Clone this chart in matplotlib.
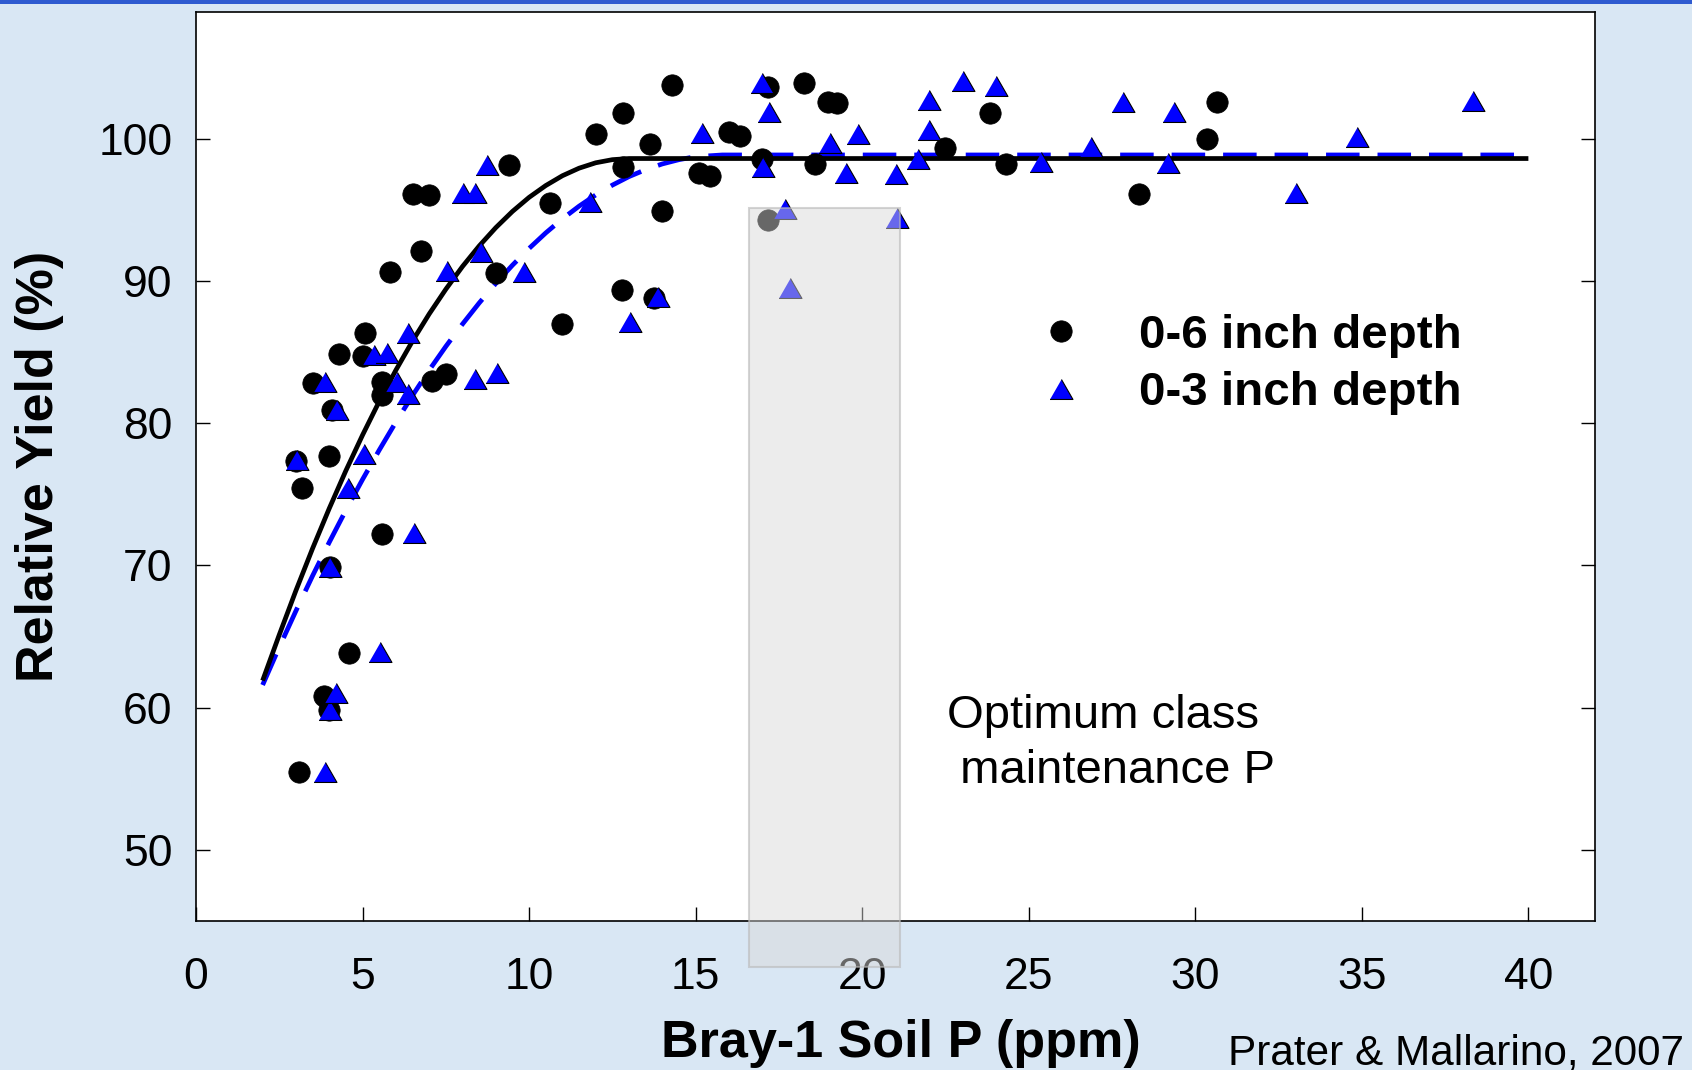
import matplotlib
matplotlib.use("Agg")
import matplotlib.pyplot as plt
from matplotlib.patches import Rectangle

plt.rcParams['font.family'] = ['Liberation Sans', 'DejaVu Sans']

# ---- data ----
depth6_x = [3.08, 3.83, 4.00, 4.58, 5.58, 4.02, 3.17, 3.00, 4.00, 3.50, 4.08, 4.30, 5.00,
            5.08, 5.57, 5.57, 5.83, 6.75, 6.50, 7.00, 7.10, 7.50, 9.00, 9.40, 10.64, 11.00,
            12.00, 12.82, 14.29, 13.64, 12.82, 13.99, 12.79, 13.74, 15.99, 16.32, 15.09,
            15.42, 16.99, 17.17, 18.24, 18.96, 19.24, 18.59, 17.16, 22.49, 23.83, 24.33,
            28.32, 30.34, 30.66]
depth6_y = [55.46, 60.84, 59.8, 63.87, 72.2, 69.87, 75.42, 77.35, 77.7, 82.8, 80.9, 84.86, 84.7,
            86.3, 82.9, 81.97, 90.6, 92.1, 96.08, 96.03, 82.98, 83.45, 90.57, 98.14, 95.49, 87.0,
            100.3, 101.8, 103.8, 99.6, 97.98, 94.9, 89.35, 88.77, 100.48, 100.2, 97.6,
            97.36, 98.6, 103.64, 103.9, 102.6, 102.5, 98.2, 94.3, 99.31, 101.77, 98.19,
            96.08, 99.96, 102.59]

depth3_x = [3.87, 4.03, 4.20, 5.53, 6.53, 4.03, 4.55, 3.03, 5.03, 3.87, 4.23, 5.33, 5.73,
            6.37, 6.03, 6.37, 7.53, 8.37, 9.03, 8.03, 8.37, 8.55, 8.73, 9.84, 11.84, 13.02,
            13.86, 15.19, 16.99, 17.19, 17.02, 17.69, 17.82, 19.02, 19.86, 19.52, 21.02,
            21.04, 21.69, 22.02, 22.02, 23.03, 24.02, 25.36, 26.86, 27.84, 29.36, 29.19,
            33.03, 34.85, 38.34]
depth3_y = [55.5, 59.84, 61.0, 63.9, 72.26, 69.87, 75.42, 77.41, 77.83, 82.91, 80.92, 84.79, 84.95,
            86.35, 82.91, 82.05, 90.71, 83.08, 83.5, 96.15, 96.19, 92.04, 98.14, 90.64, 95.56, 87.13,
            88.84, 100.41, 103.88, 101.88, 97.98, 95.02, 89.47, 99.7, 100.3, 97.6, 97.5,
            94.39, 98.6, 102.7, 100.6, 104.06, 103.69, 98.37, 99.38, 102.59, 101.88, 98.3,
            96.2, 100.08, 102.66]

fit6_x = [2.0, 2.5, 3.0, 3.5, 4.0, 4.5, 5.0, 5.5, 6.0, 6.5, 7.0, 7.5, 8.0, 8.5, 9.0, 9.5,
          10.0, 10.5, 11.0, 11.5, 12.0, 12.5, 13.0, 40.0]
fit6_y = [61.9, 65.12, 68.23, 71.19, 74.0, 76.66, 79.16, 81.52, 83.72, 85.77, 87.67, 89.41,
          91.01, 92.45, 93.74, 94.88, 95.87, 96.70, 97.39, 97.92, 98.30, 98.52, 98.6, 98.6]

fit3_x = [2.0, 2.5, 3.0, 3.5, 4.0, 4.5, 5.0, 5.5, 6.0, 6.5, 7.0, 7.5, 8.0, 8.5, 9.0, 9.5,
          10.0, 10.5, 11.0, 11.5, 12.0, 12.5, 13.0, 13.5, 14.0, 14.5, 15.0, 15.8, 40.0]
fit3_y = [61.59, 64.25, 66.80, 69.27, 71.62, 73.88, 76.04, 78.10, 80.07, 81.94, 83.72, 85.39,
          86.96, 88.44, 89.82, 91.10, 92.28, 93.37, 94.36, 95.25, 96.04, 96.73, 97.33, 97.82,
          98.22, 98.52, 98.73, 98.85, 98.85]

optimum_range = [16.59, 21.14]   # Bray-1 P (ppm)
optimum_label = "Optimum class\n maintenance P"
series_labels = ["0-6 inch depth", "0-3 inch depth"]
x_ticks = [0, 5, 10, 15, 20, 25, 30, 35, 40]
y_ticks = [50, 60, 70, 80, 90, 100]
x_label = "Bray-1 Soil P (ppm)"
y_label = "Relative Yield (%)"
credit = "Prater & Mallarino, 2007"

# ---- figure ----
W, H = 1692, 1070
fig = plt.figure(figsize=(W / 100, H / 100), dpi=100)
fig.patch.set_facecolor('#d9e7f4')
fig.patches.append(Rectangle((0, 1 - 4 / H), 1, 4 / H, transform=fig.transFigure,
                             facecolor='#2f5bd0', edgecolor='none'))

ax = fig.add_axes([196 / W, 149 / H, 1399 / W, 909 / H])
ax.set_facecolor('white')
ax.set_xlim(0, 42)
ax.set_ylim(45, 108.9)

ax.plot(fit3_x, fit3_y, color='#0000ff', lw=3.4, dashes=(7.1, 3.8), zorder=2)
ax.plot(fit6_x, fit6_y, color='black', lw=3.4, zorder=2.5, solid_capstyle='butt')

tri = [(-1, -0.87), (1, -0.87), (0, 0.87)]
h6, = ax.plot(depth6_x, depth6_y, ls='none', marker='o', ms=15.4, mfc='black',
              mec='black', mew=0.5, zorder=3, label=series_labels[0])
h3, = ax.plot(depth3_x, depth3_y, ls='none', marker=tri, ms=16.5, mfc='#0000ff',
              mec='black', mew=0.8, zorder=4, label=series_labels[1])

rect = Rectangle((optimum_range[0], 41.8), optimum_range[1] - optimum_range[0], 95.14 - 41.8,
                 facecolor=(0.85, 0.85, 0.85, 0.48), edgecolor=(0.72, 0.72, 0.72, 0.6),
                 lw=1.5, clip_on=False, zorder=6)
ax.add_patch(rect)

ax.text(22.56, 57.5, optimum_label, fontsize=34, ha='left', va='center',
        linespacing=1.32, color='black', zorder=7)

ax.set_xticks(x_ticks)
ax.set_yticks(y_ticks)
ax.tick_params(axis='both', direction='in', length=10, width=1.0, labelsize=32,
               colors='black')
ax.tick_params(axis='y', right=True, pad=17)
ax.tick_params(axis='x', top=False, pad=26)
for s in ax.spines.values():
    s.set_linewidth(1.2)

ax.set_xlabel(x_label, fontsize=37.5, fontweight='bold')
ax.xaxis.set_label_coords(0.504, -0.108)
ax.set_ylabel(y_label, fontsize=37.5, fontweight='bold')
ax.yaxis.set_label_coords(-0.094, 0.5)

leg = ax.legend(handles=[h6, h3], loc='upper left',
                bbox_to_anchor=(1037 / W, 1 - 314 / H), bbox_transform=fig.transFigure,
                frameon=False, prop={'weight': 'bold', 'size': 34.2},
                handlelength=1.0, handletextpad=1.15, labelspacing=0.28,
                borderpad=0, borderaxespad=0, numpoints=1)

fig.text(1228 / W, 1 - 1053 / H, credit, fontsize=30.4, ha='left', va='center',
         color='black')

fig.savefig('out.png', dpi=100, facecolor=fig.get_facecolor())
